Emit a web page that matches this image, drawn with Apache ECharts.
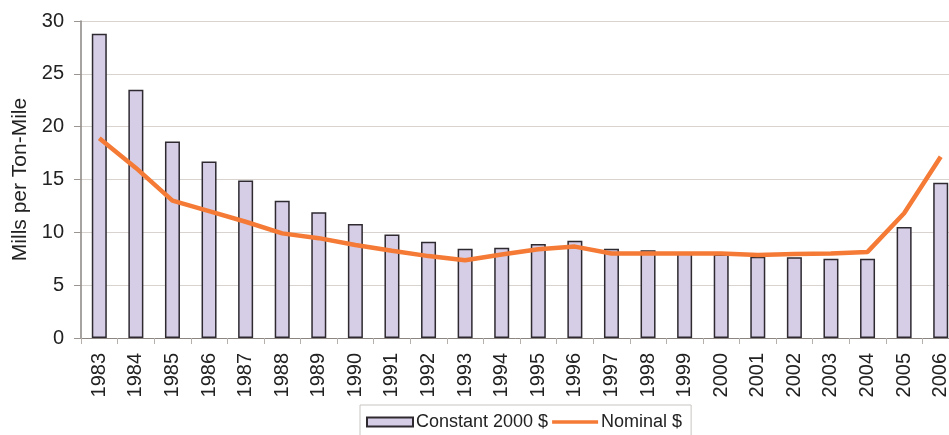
<!DOCTYPE html>
<html>
<head>
<meta charset="utf-8">
<script src="https://cdn.jsdelivr.net/npm/echarts@6/dist/echarts.min.js"></script>
<style>
  * { margin: 0; padding: 0; }
  #chart { width: 949px; height: 435px; background: #fff; }
</style>
</head>
<body>
<div id="chart"></div>
<script>
  // 年份
  const years = ['1983', '1984', '1985', '1986', '1987', '1988', '1989', '1990', '1991', '1992', '1993', '1994',
    '1995', '1996', '1997', '1998', '1999', '2000', '2001', '2002', '2003', '2004', '2005', '2006'];
  // Constant 2000 $ (柱)
  const constantValues = [28.8, 23.5, 18.6, 16.7, 14.9, 13.0, 11.9, 10.8, 9.8, 9.1, 8.45, 8.55,
    8.9, 9.2, 8.45, 8.3, 8.0, 7.9, 7.7, 7.65, 7.5, 7.5, 10.5, 14.7];
  // Nominal $ (线)
  const nominalValues = [18.9, 16.1, 13.0, 12.0, 11.0, 9.9, 9.45, 8.8, 8.25, 7.75, 7.35, 7.9,
    8.4, 8.65, 8.0, 8.0, 8.0, 8.0, 7.85, 7.95, 8.0, 8.15, 11.8, 17.15];
  const yTicks = [0, 5, 10, 15, 20, 25, 30];

  const chart = echarts.init(document.getElementById('chart'));

  const option = {
    animation: false,
    textStyle: { fontFamily: 'Liberation Sans, Arial, sans-serif' },
    grid: {
      left: 81,
      top: 21,
      width: 878, // 图表右侧被裁掉
      height: 317,
      outerBoundsMode: 'none',
      containLabel: false,
    },
    legend: {
      left: 360,
      top: 405,
      data: [
        { name: 'Constant 2000 $', icon: 'rect' },
        { name: 'Nominal $', icon: 'path://M0,0H50V4H0Z' },
      ],
      itemWidth: 46,
      itemHeight: 9,
      itemGap: 4,
      symbolKeepAspect: true,
      padding: [8, 9, 12, 6],
      borderColor: '#c9c5c1',
      borderWidth: 1,
      textStyle: { fontSize: 18, color: '#222', padding: [0, 0, 0, -2] },
    },
    xAxis: {
      type: 'category',
      data: years,
      axisLine: { lineStyle: { color: '#8a8580', width: 1 } },
      axisTick: { show: true, length: 6, lineStyle: { color: '#b5b0ab' } },
      axisLabel: {
        rotate: 90,
        fontSize: 20,
        color: '#222',
        margin: 15,
      },
      splitLine: { show: false },
    },
    yAxis: {
      type: 'value',
      min: yTicks[0],
      max: yTicks[yTicks.length - 1],
      interval: 5,
      name: 'Mills per Ton-Mile',
      nameLocation: 'middle',
      nameRotate: 90,
      nameGap: 50,
      nameTextStyle: { fontSize: 21, color: '#222' },
      axisLine: { show: true, lineStyle: { color: '#8a8580', width: 1.5 } },
      axisTick: { show: true, length: 7, lineStyle: { color: '#9a9590' } },
      axisLabel: { fontSize: 20, color: '#222', margin: 17 },
      splitLine: { show: true, lineStyle: { color: '#d8d3ce', width: 1.2 } },
    },
    series: [
      {
        name: 'Constant 2000 $',
        type: 'bar',
        data: constantValues,
        barWidth: 15,
        itemStyle: {
          color: '#d6cde6',
          borderColor: '#2e2a30',
          borderWidth: 1.5,
        },
        z: 2,
      },
      {
        name: 'Nominal $',
        type: 'line',
        data: nominalValues,
        symbol: 'none',
        lineStyle: { color: '#f47a35', width: 4.5 },
        itemStyle: { color: '#f47a35' },
        z: 3,
      },
    ],
  };

  chart.setOption(option);
</script>
</body>
</html>
